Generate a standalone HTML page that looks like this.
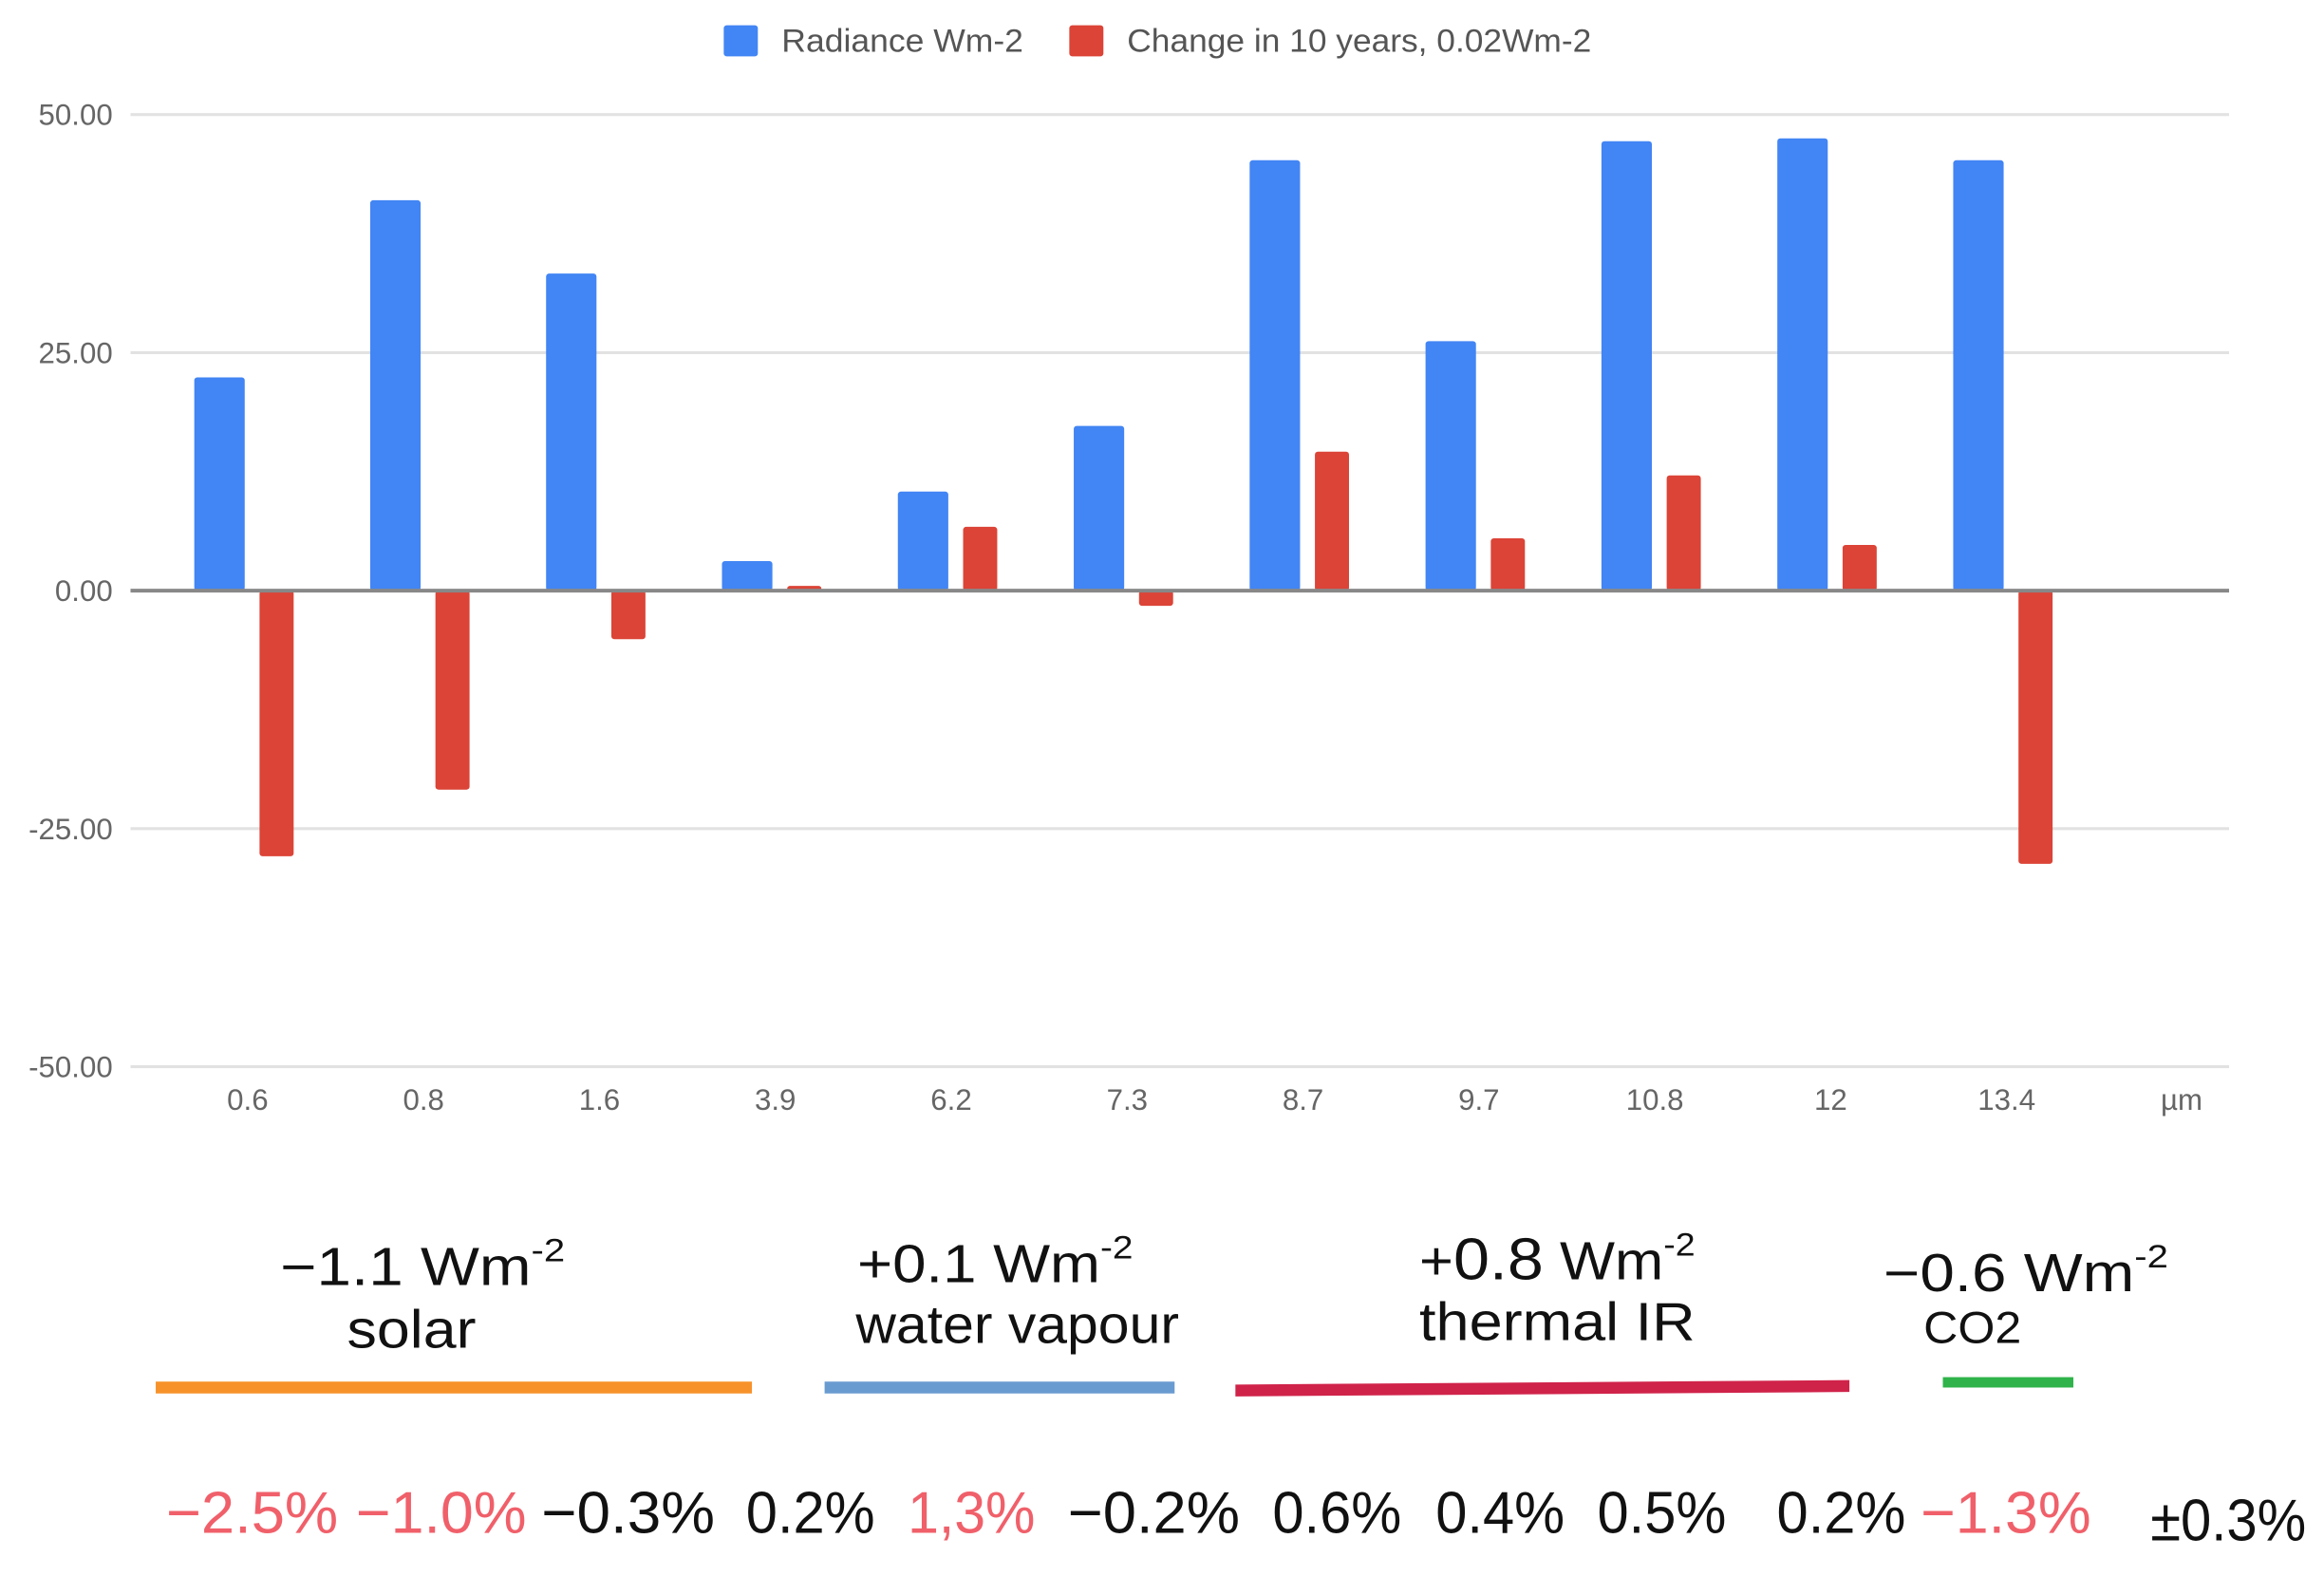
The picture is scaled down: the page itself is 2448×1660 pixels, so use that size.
<!DOCTYPE html>
<html><head><meta charset="utf-8"><style>
html,body{margin:0;padding:0;background:#fff;}
svg{display:block;}
</style></head><body>
<svg id="chart" width="2448" height="1660" viewBox="0 0 1567 1062" preserveAspectRatio="none" xmlns="http://www.w3.org/2000/svg" font-family="'Liberation Sans', sans-serif">
<g id="grid"></g>
<g id="bars"></g>
<g id="axis"></g>
<g font-size="22" fill="#555">
  <rect x="488" y="17" width="23" height="21" rx="2" fill="#4285f4"/>
  <text x="527" y="35" textLength="163" lengthAdjust="spacingAndGlyphs">Radiance Wm-2</text>
  <rect x="721" y="17" width="23" height="21" rx="2" fill="#db4437"/>
  <text x="760" y="35" textLength="313" lengthAdjust="spacingAndGlyphs">Change in 10 years, 0.02Wm-2</text>
</g>
<g fill="#111" font-size="36">
  <text x="189" y="866" textLength="192" lengthAdjust="spacingAndGlyphs">−1.1 Wm<tspan font-size="22" dy="-16">-2</tspan></text>
  <text x="234" y="908" textLength="87" lengthAdjust="spacingAndGlyphs">solar</text>
  <text x="578" y="864" textLength="186" lengthAdjust="spacingAndGlyphs">+0.1 Wm<tspan font-size="22" dy="-16">-2</tspan></text>
  <text x="577" y="905" textLength="218" lengthAdjust="spacingAndGlyphs">water vapour</text>
  <text x="957" y="862" textLength="186" lengthAdjust="spacingAndGlyphs">+<tspan font-size="40">0.8</tspan> Wm<tspan font-size="22" dy="-16">-2</tspan></text>
  <text x="957" y="903" textLength="186" lengthAdjust="spacingAndGlyphs">thermal IR</text>
  <text x="1270" y="870" textLength="192" lengthAdjust="spacingAndGlyphs">−0.6 Wm<tspan font-size="22" dy="-16">-2</tspan></text>
  <text x="1297" y="905" font-size="30" textLength="66" lengthAdjust="spacingAndGlyphs">CO2</text>
  <rect x="105" y="931" width="402" height="8" fill="#f7922a"/>
  <rect x="556" y="931" width="236" height="8" fill="#6a9bd0"/>
  <polygon points="833,933 1247,930 1247,938 833,941" fill="#d0234a"/>
  <rect x="1310" y="928" width="88" height="7" fill="#2fb34a"/>
</g>
<g id="pcts" font-size="40"></g>
<script>
const categories = ["0.6","0.8","1.6","3.9","6.2","7.3","8.7","9.7","10.8","12","13.4"];
const radiance = [22.4,41,33.3,3.1,10.4,17.3,45.2,26.2,47.2,47.5,45.2];
const change = [-27.9,-20.9,-5.1,0.5,6.7,-1.6,14.6,5.5,12.1,4.8,-28.7];
const yTicks = [50,25,0,-25,-50];
const yTickLabels = ["50.00","25.00","0.00","-25.00","-50.00"];
const pctLabels = ["−2.5%","−1.0%","−0.3%","0.2%","1,3%","−0.2%","0.6%","0.4%","0.5%","0.2%","−1.3%","±0.3%"];
const pctNegative = [true,true,false,false,true,false,false,false,false,false,true,false];

const NS = "http://www.w3.org/2000/svg";
function yScale(v){ return 398 - v * (160.4/25); }
function xScale(i){ return 167 + i * 118.6; }
function mk(tag, attrs, parent){ const e=document.createElementNS(NS,tag); for(const k in attrs) e.setAttribute(k,attrs[k]); parent.appendChild(e); return e; }

const grid=document.getElementById('grid'), axis=document.getElementById('axis'), bars=document.getElementById('bars'), pcts=document.getElementById('pcts');
yTicks.forEach((t,i)=>{
  const y=yScale(t);
  const l=mk('line',{x1:88,x2:1503,y1:y,y2:y,stroke:t===0?'#888':'#e2e2e2','stroke-width':t===0?2.5:2},t===0?axis:grid);
  
  
  const tx=mk('text',{x:76,y:y+7,'text-anchor':'end','font-size':20,fill:'#666'},axis);
  
  
  tx.textContent=yTickLabels[i];
});
categories.forEach((c,i)=>{
  const cx=xScale(i);
  const tx=mk('text',{x:cx,y:748,'text-anchor':'middle','font-size':20,fill:'#666'},axis);
  
  
  tx.textContent=c;
  const vb=radiance[i], y0=yScale(0), yb=yScale(vb);
  const b=mk('rect',{x:cx-36,y:Math.min(y0,yb),width:34,height:Math.max(1,Math.abs(y0-yb)),rx:2,fill:'#4285f4'},bars);
  
  
  const vr=change[i], yr=yScale(vr);
  const r=mk('rect',{x:cx+8,y:Math.min(y0,yr),width:23,height:Math.max(1.5,Math.abs(y0-yr)),rx:2,fill:'#db4437'},bars);
  
  
});
const mu=mk('text',{x:1471,y:748,'text-anchor':'middle','font-size':20,fill:'#666'},axis);


mu.textContent='µm';

const pctX=[112,240,365,503,612,720,858,968,1077,1198,1295,1450];
const pctW=[116,115,117,87,86,116,87,87,87,87,115,105];
pctLabels.forEach((p,i)=>{
  const t=mk('text',{x:pctX[i],y:i===11?1038:1033,fill:pctNegative[i]?'#f0606a':'#111',textLength:pctW[i],lengthAdjust:'spacingAndGlyphs'},pcts);
  
  
  t.textContent=p;
});
</script>
</svg>
</body></html>
